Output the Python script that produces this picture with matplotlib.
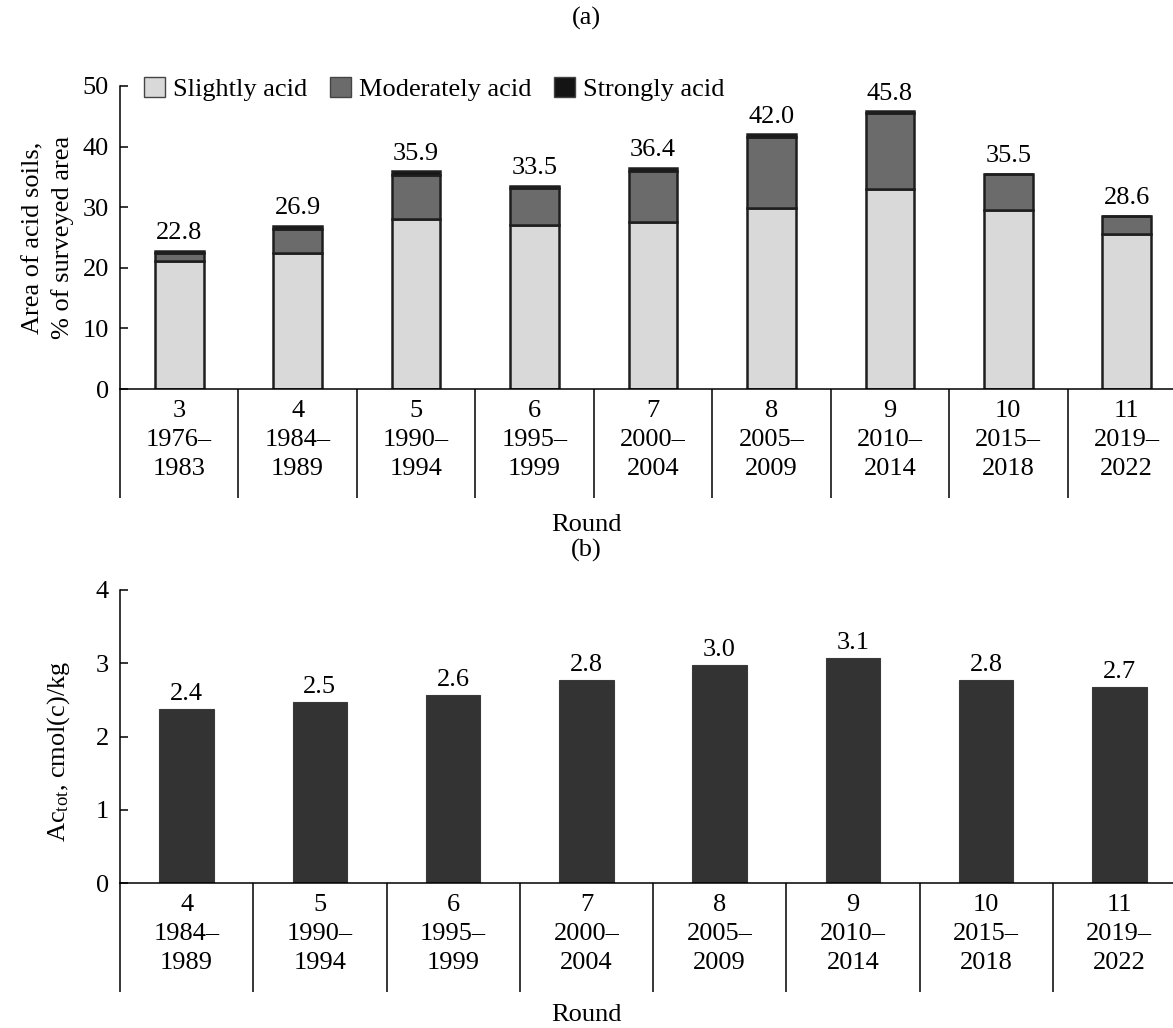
import numpy as np
import matplotlib
matplotlib.use('Agg')
import matplotlib.pyplot as plt
from matplotlib.patches import Patch


# panel (a): area of acid soils by round
rounds_a = ["3\n1976\u2013\n1983", "4\n1984\u2013\n1989", "5\n1990\u2013\n1994",
            "6\n1995\u2013\n1999", "7\n2000\u2013\n2004", "8\n2005\u2013\n2009",
            "9\n2010\u2013\n2014", "10\n2015\u2013\n2018", "11\n2019\u2013\n2022"]
slightly = [21.1, 22.5, 28.1, 27.1, 27.6, 29.8, 33.0, 29.6, 25.6]
moderately = [1.4, 3.9, 7.2, 6.0, 8.3, 11.8, 12.5, 5.9, 3.0]
strongly = [0.3, 0.5, 0.6, 0.4, 0.5, 0.4, 0.3, 0.0, 0.0]

# panel (b): total acidity
rounds_b = ["4\n1984\u2013\n1989", "5\n1990\u2013\n1994", "6\n1995\u2013\n1999",
            "7\n2000\u2013\n2004", "8\n2005\u2013\n2009", "9\n2010\u2013\n2014",
            "10\n2015\u2013\n2018", "11\n2019\u2013\n2022"]
ac_tot = [2.37, 2.47, 2.57, 2.77, 2.97, 3.07, 2.77, 2.67]
ac_labels = ["2.4", "2.5", "2.6", "2.8", "3.0", "3.1", "2.8", "2.7"]

plt.rcParams['font.family'] = ['Liberation Serif', 'DejaVu Serif']
plt.rcParams['mathtext.fontset'] = 'custom'
plt.rcParams['mathtext.rm'] = 'Liberation Serif'
plt.rcParams['mathtext.it'] = 'Liberation Serif:italic'
plt.rcParams['font.size'] = 19

FS = 19
W, H = 1173, 1028


def style_axes(ax, labels, sep_depth):
    n = len(labels)
    ax.set_xlim(-0.5, n - 0.5)
    ax.spines['top'].set_visible(False)
    ax.spines['right'].set_visible(False)
    ax.spines['left'].set_linewidth(1.1)
    ax.spines['bottom'].set_linewidth(1.1)
    ax.tick_params(axis='y', direction='in', length=6, width=1.1, labelsize=FS, pad=8)
    ax.set_xticks(np.arange(n))
    ax.set_xticklabels(labels, fontsize=FS, linespacing=1.4)
    ax.tick_params(axis='x', length=0, pad=8)
    # category separators below the axis
    xs = np.arange(n) - 0.5
    ax.vlines(xs, -sep_depth, 0, transform=ax.get_xaxis_transform(),
              colors='black', linewidth=1.1, clip_on=False)


fig = plt.figure(figsize=(W / 100, H / 100), dpi=100)

left = 120 / W
width = 1066 / W

# ---- panel (a)
ax1 = fig.add_axes([left, 1 - 389 / H, width, 303 / H])
x = np.arange(len(slightly))
edge = dict(edgecolor='#1e1e1e', linewidth=1.8, width=0.41)
ax1.bar(x, slightly, color='#d9d9d9', **edge)
ax1.bar(x, moderately, bottom=slightly, color='#6b6b6b', **edge)
bot2 = np.array(slightly) + np.array(moderately)
ax1.bar(x, strongly, bottom=bot2, color='#141414', **edge)
totals = bot2 + np.array(strongly)
for xi, t in zip(x, totals):
    ax1.annotate(f"{t:.1f}", (xi, t), xytext=(0, 5), textcoords='offset points',
                 ha='center', va='bottom', fontsize=FS)
ax1.set_ylim(0, 50)
ax1.set_yticks([0, 10, 20, 30, 40, 50])
style_axes(ax1, rounds_a, 109 / 303)
ax1.set_ylabel("Area of acid soils,\n% of surveyed area", fontsize=FS, linespacing=1.4)
ax1.yaxis.set_label_coords(-0.043, 0.5)

handles = [Patch(facecolor='#d9d9d9', edgecolor='#444444', linewidth=1, label='Slightly acid'),
           Patch(facecolor='#6b6b6b', edgecolor='#444444', linewidth=1, label='Moderately acid'),
           Patch(facecolor='#141414', edgecolor='#444444', linewidth=1, label='Strongly acid')]
ax1.legend(handles=handles, ncol=3, loc='center left', bbox_to_anchor=(0.0225, 0.99),
           frameon=False, fontsize=FS, handlelength=0.8, handleheight=0.8,
           handletextpad=0.3, columnspacing=0.85, borderaxespad=0, borderpad=0)

# ---- panel (b)
ax2 = fig.add_axes([left, 1 - 883 / H, width, 293 / H])
x2 = np.arange(len(ac_tot))
ax2.bar(x2, ac_tot, width=0.41, color='#333333', edgecolor='#3a3a3a', linewidth=0.8)
for xi, v, lab in zip(x2, ac_tot, ac_labels):
    ax2.annotate(lab, (xi, v), xytext=(0, 3), textcoords='offset points',
                 ha='center', va='bottom', fontsize=FS)
ax2.set_ylim(0, 4)
ax2.set_yticks([0, 1, 2, 3, 4])
style_axes(ax2, rounds_b, 109 / 293)
ax2.set_ylabel("Ac$_{\\mathrm{tot}}$, cmol(c)/kg", fontsize=FS)
ax2.yaxis.set_label_coords(-0.045, 0.45)

fig.text(0.5, 1 - 18 / H, "(a)", ha='center', va='center', fontsize=FS)
fig.text(0.5, 1 - 525 / H, "Round", ha='center', va='center', fontsize=FS)
fig.text(0.5, 1 - 550 / H, "(b)", ha='center', va='center', fontsize=FS)
fig.text(0.5, 1 - 1015 / H, "Round", ha='center', va='center', fontsize=FS)

fig.savefig("out.png", dpi=100)
